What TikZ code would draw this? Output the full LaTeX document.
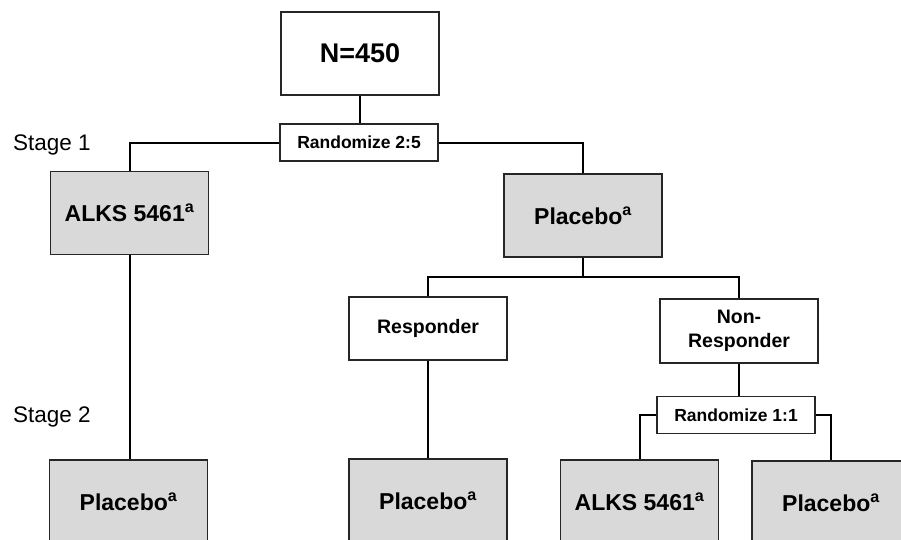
\documentclass[tikz,border=0pt]{standalone}
\usepackage{fontspec}
\setmainfont{Liberation Sans}
\usetikzlibrary{positioning,calc}
\definecolor{armgray}{HTML}{D9D9D9}
\tikzset{box/.style={draw=black!85, line width=1.3pt, minimum width=158pt, inner sep=0pt, align=center}}
\tikzset{arm/.style={box, fill=armgray, minimum height=83pt, font=\fontsize{23}{26}\selectfont\bfseries}}
\tikzset{rand/.style={box, fill=white, minimum height=37pt, font=\fontsize{17.5}{20}\selectfont\bfseries}}
\tikzset{resp/.style={box, fill=white, minimum height=63pt, font=\fontsize{19.5}{24}\selectfont\bfseries}}
\tikzset{stage/.style={anchor=west, inner sep=0pt, font=\fontsize{22.5}{26}\selectfont}}

\begin{document}
\begin{tikzpicture}[x=1pt, y=-1pt, line width=2pt]
\useasboundingbox (0,0) rectangle (901,539);
\clip (0,0) rectangle (901,539);
% stage 1
\node[box, fill=white, minimum height=83pt, font=\fontsize{27}{30}\selectfont\bfseries] (N) at (360,53.5) {N=450};
\node[rand] (R1) at (359,142.5) {Randomize 2:5};
\node[arm] (A1) at (129.5,213) {ALKS 5461\textsuperscript{a}};
\node[arm] (P1) at (583,215.5) {Placebo\textsuperscript{a}};
\node[resp] (Re) at (428,328.5) {Responder};
\node[resp, minimum height=64pt] (NR) at (739,331) {Non-\\Responder};
% stage 2
\node[rand] (R2) at (736,415) {Randomize 1:1};
\node[arm] (P2) at (128.5,501.5) {Placebo\textsuperscript{a}};
\node[arm] (P3) at (428,500.5) {Placebo\textsuperscript{a}};
\node[arm] (A2) at (639.5,501.5) {ALKS 5461\textsuperscript{a}};
\node[arm] (P4) at (831,502.5) {Placebo\textsuperscript{a}};
\node[stage] (S1) at (12,145) {Stage 1};
\node[stage] (S2) at (12,417) {Stage 2};
\coordinate (J1) at (583,277);
\draw (N.south) -- (N.south |- R1.north);
\draw (R1.west) -| (A1.north);
\draw (R1.east) -| (P1.north);
\draw (A1.south) -- (A1.south |- P2.north);
\draw (P1) -- (J1);
\draw (Re.north) |- (J1) -| (NR.north);
\draw (Re) -- (P3);
\draw (NR.south) -- (NR.south |- R2.north);
\draw (R2.west) -| (A2.north);
\draw (R2.east) -| (P4.north);
\end{tikzpicture}
\end{document}
